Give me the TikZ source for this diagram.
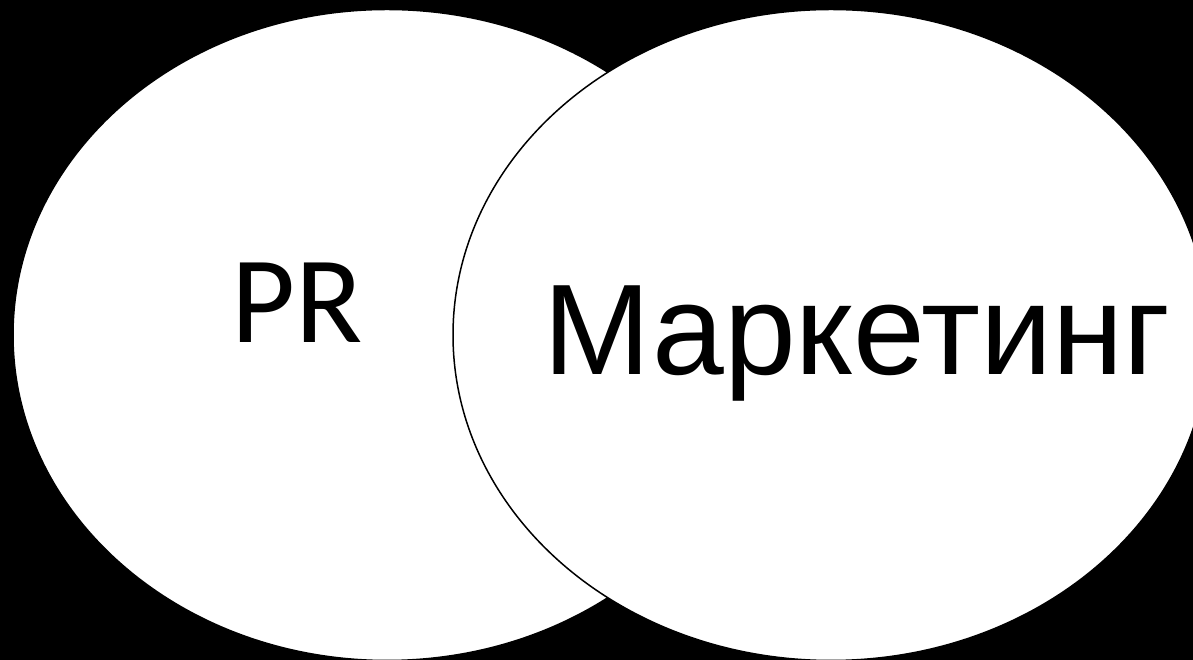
\documentclass[tikz,border=0pt]{standalone}
\usepackage{fontspec}
\usetikzlibrary{shapes.geometric}
\newfontfamily\prfont{Carlito}
\newfontfamily\mkfont{Liberation Sans}
\begin{document}
\begin{tikzpicture}[x=1pt,y=1pt,
  vennset/.style={ellipse, draw=black, fill=white, line width=1.5pt, inner sep=0pt},
  bigword/.style={anchor=base, inner sep=0pt, text=black}]
  % black page
  \fill[black] (0,0) rectangle (1193,660);
  \useasboundingbox (0,0) rectangle (1193,660);
  % the two overlapping sets, right one on top
  \node[vennset, minimum width=748pt, minimum height=651pt] (pr) at (387,325) {};
  \node[vennset, minimum width=756pt, minimum height=651pt] (mk) at (831,325) {};
  % labels
  \node[bigword, font=\prfont\fontsize{124}{124}\selectfont] (prlabel) at (297.5,317.5) {PR};
  \node[bigword, font=\mkfont\fontsize{129}{129}\selectfont] (mklabel) at (857,285) {Маркетинг};
\end{tikzpicture}
\end{document}
